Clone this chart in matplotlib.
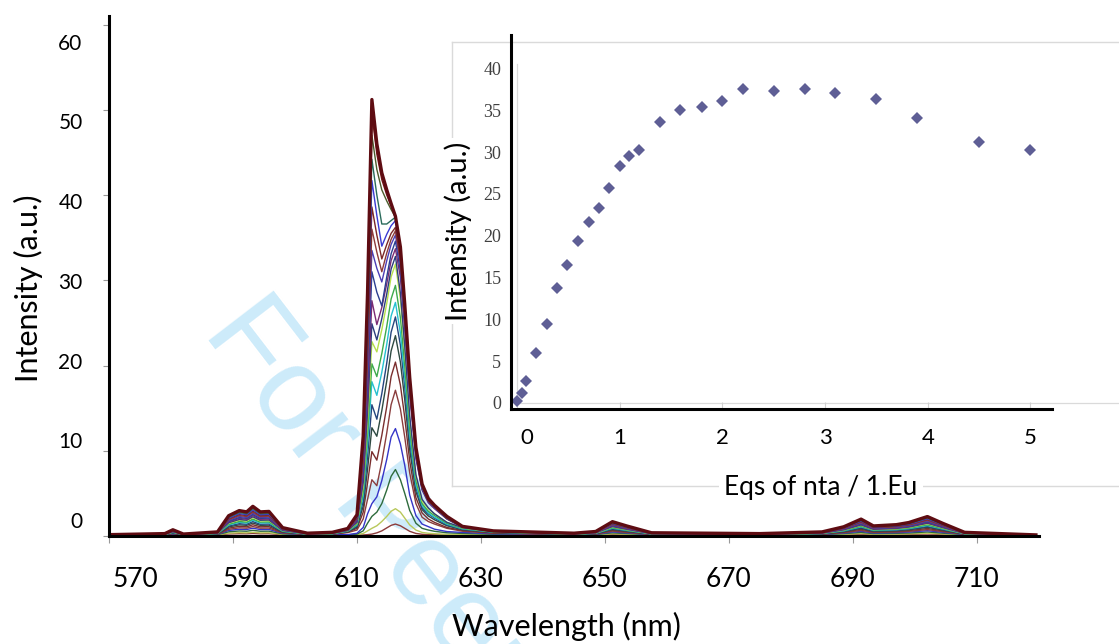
import matplotlib
matplotlib.use("Agg")
import matplotlib.pyplot as plt
from matplotlib.transforms import ScaledTranslation

plt.rcParams['font.family'] = ['Lato', 'DejaVu Sans']

# emission spectra: wavelength grid (nm) and one intensity list per titration step
wavelength = [568, 579, 580.3, 582, 587.5, 589.3, 591, 592.2, 593.2, 594.4, 595.8, 598, 602, 606,
              608.5, 610, 611, 611.7, 612.4, 613.2, 614.0, 614.8, 615.5, 616.2, 617, 617.7, 618.5,
              619.5, 620.5, 621.5, 622.5, 624.5, 627, 632,
              645, 648.5, 651.2, 653.5, 657.5, 675, 685, 688.5, 691.3, 693.3, 697, 699, 702, 704.5, 708, 719.5]

c01 = [0.1, 0.11, 0.14, 0.11, 0.12, 0.24, 0.27, 0.26, 0.3, 0.26, 0.27, 0.15, 0.11, 0.12,
       0.1, 0.1, 0.12, 0.16, 0.22, 0.37, 0.6, 0.95, 1.25, 1.4, 1.2, 0.9, 0.55, 0.3, 0.2, 0.16, 0.14, 0.12, 0.12, 0.11,
       0.11, 0.13, 0.19, 0.16, 0.12, 0.11, 0.12, 0.16, 0.21, 0.16, 0.17, 0.19, 0.23, 0.18, 0.12, 0.1]
c02 = [0.1, 0.12, 0.16, 0.11, 0.14, 0.33, 0.39, 0.37, 0.44, 0.37, 0.38, 0.19, 0.12, 0.13,
       0.11, 0.14, 0.3, 0.6, 0.9, 1.2, 1.7, 2.3, 2.9, 3.2, 2.8, 2.1, 1.3, 0.7, 0.42, 0.32, 0.27, 0.2, 0.17, 0.13,
       0.12, 0.14, 0.26, 0.21, 0.13, 0.12, 0.14, 0.2, 0.29, 0.21, 0.22, 0.25, 0.32, 0.24, 0.13, 0.1]
c03 = [0.11, 0.13, 0.21, 0.12, 0.16, 0.49, 0.59, 0.56, 0.67, 0.56, 0.57, 0.25, 0.14, 0.16,
       0.13, 0.22, 0.6, 1.5, 2.3, 2.8, 3.8, 5.4, 7.0, 7.8, 6.6, 5.0, 3.0, 1.5, 0.9, 0.7, 0.55, 0.38, 0.3, 0.2,
       0.14, 0.17, 0.37, 0.28, 0.15, 0.13, 0.16, 0.27, 0.42, 0.28, 0.31, 0.35, 0.47, 0.33, 0.16, 0.11]
c04 = [0.11, 0.14, 0.25, 0.13, 0.19, 0.65, 0.79, 0.76, 0.91, 0.76, 0.77, 0.31, 0.16, 0.18,
       0.16, 0.32, 1.0, 2.6, 3.8, 4.6, 6.5, 9.0, 11.6, 12.6, 10.8, 8.3, 4.8, 2.4, 1.4, 1.1, 0.8, 0.52, 0.42, 0.26,
       0.16, 0.2, 0.48, 0.36, 0.17, 0.14, 0.19, 0.34, 0.55, 0.36, 0.4, 0.46, 0.62, 0.43, 0.18, 0.11]
c05 = [0.11, 0.15, 0.29, 0.14, 0.21, 0.78, 0.96, 0.92, 1.11, 0.92, 0.93, 0.36, 0.17, 0.2,
       0.4, 0.7, 2.0, 4.3, 6.6, 5.9, 8.7, 12.1, 15.4, 17.1, 14.9, 11.6, 7.4, 3.8, 2.2, 1.7, 1.4, 0.9, 0.56, 0.32,
       0.17, 0.23, 0.57, 0.42, 0.18, 0.15, 0.21, 0.39, 0.66, 0.42, 0.47, 0.54, 0.75, 0.51, 0.2, 0.11]
c06 = [0.11, 0.16, 0.33, 0.15, 0.24, 0.92, 1.14, 1.08, 1.32, 1.08, 1.1, 0.42, 0.18, 0.22,
       0.46, 0.9, 2.8, 6.2, 9.9, 8.9, 11.8, 15.2, 18.7, 20.4, 17.7, 13.9, 8.8, 4.5, 2.7, 2.0, 1.6, 1.0, 0.65, 0.37,
       0.18, 0.25, 0.67, 0.49, 0.2, 0.16, 0.24, 0.45, 0.78, 0.49, 0.54, 0.63, 0.88, 0.6, 0.22, 0.11]
c07 = [0.11, 0.18, 0.36, 0.15, 0.26, 1.06, 1.31, 1.25, 1.52, 1.25, 1.27, 0.47, 0.2, 0.24,
       0.5, 1.05, 3.5, 7.8, 12.7, 11.7, 14.7, 18.2, 21.7, 23.5, 20.4, 16.0, 10.1, 5.2, 3.1, 2.35, 1.9, 1.2, 0.73, 0.41,
       0.2, 0.28, 0.76, 0.55, 0.22, 0.18, 0.26, 0.51, 0.89, 0.55, 0.62, 0.72, 1.02, 0.68, 0.24, 0.11]
c08 = [0.11, 0.18, 0.4, 0.16, 0.28, 1.17, 1.45, 1.38, 1.69, 1.38, 1.41, 0.51, 0.21, 0.26,
       0.54, 1.2, 4.1, 9.3, 15.4, 13.7, 16.7, 20.3, 23.9, 25.7, 22.4, 17.5, 11.1, 5.7, 3.3, 2.6, 2.1, 1.3, 0.79, 0.43,
       0.21, 0.3, 0.84, 0.61, 0.23, 0.18, 0.28, 0.56, 0.98, 0.61, 0.68, 0.8, 1.12, 0.75, 0.26, 0.11]
c09 = [0.12, 0.19, 0.43, 0.17, 0.3, 1.29, 1.6, 1.52, 1.86, 1.52, 1.55, 0.56, 0.22, 0.27,
       0.57, 1.3, 4.7, 10.8, 18.1, 16.5, 19.2, 22.5, 25.8, 27.4, 23.8, 18.6, 11.8, 6.0, 3.6, 2.7, 2.2, 1.4, 0.84, 0.46,
       0.22, 0.32, 0.92, 0.66, 0.25, 0.19, 0.3, 0.61, 1.08, 0.66, 0.74, 0.87, 1.23, 0.82, 0.27, 0.12]
c10 = [0.12, 0.2, 0.45, 0.17, 0.31, 1.38, 1.71, 1.63, 1.99, 1.63, 1.66, 0.59, 0.23, 0.28,
       0.6, 1.4, 5.2, 12.0, 20.2, 18.7, 21.4, 24.6, 27.8, 29.4, 25.6, 20.0, 12.6, 6.5, 3.8, 2.9, 2.4, 1.5, 0.89, 0.48,
       0.23, 0.34, 0.98, 0.7, 0.26, 0.2, 0.31, 0.65, 1.15, 0.7, 0.79, 0.93, 1.32, 0.87, 0.28, 0.12]
c11 = [0.12, 0.21, 0.48, 0.18, 0.33, 1.49, 1.86, 1.77, 2.16, 1.77, 1.8, 0.64, 0.24, 0.3,
       0.63, 1.5, 5.8, 13.5, 22.8, 21.6, 24.2, 27.3, 30.4, 31.9, 27.8, 21.7, 13.7, 7.0, 4.1, 3.2, 2.6, 1.6, 0.96, 0.51,
       0.24, 0.36, 1.06, 0.76, 0.27, 0.21, 0.33, 0.7, 1.25, 0.76, 0.85, 1.0, 1.43, 0.94, 0.3, 0.12]
c12 = [0.12, 0.22, 0.5, 0.18, 0.34, 1.56, 1.94, 1.85, 2.26, 1.85, 1.88, 0.66, 0.25, 0.31,
       0.65, 1.6, 6.3, 14.6, 24.9, 23.0, 25.5, 28.4, 31.3, 32.8, 28.5, 22.3, 14.1, 7.2, 4.3, 3.3, 2.6, 1.6, 0.99, 0.53,
       0.25, 0.38, 1.11, 0.79, 0.28, 0.22, 0.34, 0.73, 1.3, 0.79, 0.89, 1.05, 1.5, 0.98, 0.31, 0.12]
c13 = [0.12, 0.22, 0.53, 0.19, 0.36, 1.65, 2.06, 1.96, 2.4, 1.96, 1.99, 0.7, 0.26, 0.32,
       0.68, 1.7, 6.9, 16.1, 27.6, 24.8, 26.8, 29.6, 32.3, 33.7, 30.3, 24.3, 16.5, 9.1, 5.4, 3.9, 3.2, 2.0, 1.01, 0.54,
       0.26, 0.39, 1.17, 0.83, 0.29, 0.22, 0.36, 0.77, 1.38, 0.83, 0.94, 1.11, 1.58, 1.04, 0.32, 0.12]
c14 = [0.12, 0.23, 0.55, 0.19, 0.37, 1.74, 2.17, 2.07, 2.53, 2.07, 2.1, 0.73, 0.27, 0.34,
       0.71, 1.8, 7.6, 17.8, 31.0, 28.6, 27.0, 30.4, 33.1, 34.6, 31.1, 24.9, 17.0, 9.3, 5.5, 4.0, 3.3, 2.0, 1.03, 0.55,
       0.27, 0.41, 1.24, 0.88, 0.3, 0.23, 0.37, 0.81, 1.45, 0.88, 0.99, 1.17, 1.67, 1.09, 0.34, 0.12]
c15 = [0.12, 0.24, 0.58, 0.2, 0.39, 1.83, 2.29, 2.17, 2.67, 2.17, 2.21, 0.77, 0.27, 0.35,
       0.73, 1.9, 8.1, 19.2, 33.5, 31.4, 29.8, 32.3, 34.2, 35.3, 31.8, 25.4, 17.3, 9.5, 5.6, 4.1, 3.3, 2.1, 1.05, 0.56,
       0.27, 0.43, 1.3, 0.92, 0.31, 0.24, 0.39, 0.84, 1.53, 0.92, 1.03, 1.22, 1.76, 1.15, 0.35, 0.12]
c16 = [0.12, 0.24, 0.6, 0.2, 0.4, 1.92, 2.4, 2.28, 2.8, 2.28, 2.32, 0.8, 0.28, 0.36,
       0.75, 2.0, 8.6, 20.5, 36.0, 33.3, 31.0, 33.2, 34.8, 35.8, 32.2, 25.8, 17.5, 9.7, 5.7, 4.1, 3.4, 2.1, 1.07, 0.57,
       0.28, 0.44, 1.36, 0.96, 0.32, 0.24, 0.4, 0.88, 1.6, 0.96, 1.08, 1.28, 1.84, 1.2, 0.36, 0.12]
c17 = [0.13, 0.25, 0.63, 0.21, 0.42, 2.02, 2.52, 2.39, 2.94, 2.39, 2.44, 0.84, 0.29, 0.38,
       0.77, 2.1, 9.2, 21.9, 38.6, 35.3, 32.5, 34.2, 35.5, 36.2, 32.6, 26.1, 17.7, 9.8, 5.8, 4.2, 3.4, 2.1, 1.08, 0.57,
       0.29, 0.46, 1.43, 1.01, 0.34, 0.25, 0.42, 0.92, 1.68, 1.01, 1.13, 1.34, 1.93, 1.26, 0.38, 0.13]
c18 = [0.13, 0.26, 0.65, 0.21, 0.43, 2.11, 2.63, 2.5, 3.07, 2.5, 2.55, 0.87, 0.3, 0.39,
       0.8, 2.2, 9.8, 23.5, 41.7, 37.6, 34.0, 35.4, 36.4, 37.0, 33.3, 26.6, 18.1, 10.0, 5.9, 4.3, 3.5, 2.2, 1.1, 0.58,
       0.3, 0.48, 1.49, 1.05, 0.35, 0.26, 0.43, 0.96, 1.75, 1.05, 1.18, 1.4, 2.02, 1.31, 0.39, 0.13]
c19 = [0.13, 0.27, 0.68, 0.22, 0.45, 2.2, 2.75, 2.61, 3.21, 2.61, 2.66, 0.91, 0.31, 0.4,
       0.82, 2.3, 10.3, 24.9, 44.2, 40.0, 36.6, 36.6, 37.0, 37.4, 33.7, 26.9, 18.3, 10.1, 6.0, 4.3, 3.5, 2.2, 1.11, 0.59,
       0.31, 0.5, 1.55, 1.09, 0.36, 0.27, 0.45, 1.0, 1.83, 1.09, 1.23, 1.46, 2.11, 1.37, 0.4, 0.13]
c20 = [0.13, 0.27, 0.7, 0.22, 0.46, 2.27, 2.84, 2.69, 3.31, 2.69, 2.74, 0.94, 0.32, 0.41,
       0.84, 2.4, 10.9, 26.3, 47.0, 43.0, 40.6, 39.3, 38.3, 37.4, 33.7, 26.9, 18.3, 10.1, 6.0, 4.3, 3.5, 2.2, 1.11, 0.59,
       0.32, 0.51, 1.6, 1.13, 0.37, 0.27, 0.46, 1.03, 1.89, 1.13, 1.27, 1.51, 2.17, 1.41, 0.41, 0.13]
c21 = [0.13, 0.28, 0.72, 0.23, 0.47, 2.33, 2.92, 2.78, 3.41, 2.78, 2.82, 0.96, 0.33, 0.42,
       0.86, 2.4, 11.4, 27.6, 49.5, 44.8, 41.8, 40.0, 38.7, 37.4, 33.8, 27.0, 18.4, 10.2, 6.0, 4.3, 3.5, 2.2, 1.12, 0.6,
       0.33, 0.52, 1.65, 1.16, 0.37, 0.28, 0.47, 1.06, 1.94, 1.16, 1.31, 1.55, 2.24, 1.45, 0.42, 0.13]
c22 = [0.13, 0.28, 0.73, 0.23, 0.48, 2.38, 2.98, 2.83, 3.48, 2.83, 2.88, 0.98, 0.33, 0.43,
       0.88, 2.5, 11.7, 28.5, 51.2, 46.0, 42.6, 40.6, 39.0, 37.5, 33.9, 27.2, 18.6, 10.4, 6.1, 4.4, 3.6, 2.3, 1.13, 0.6,
       0.33, 0.53, 1.68, 1.18, 0.38, 0.28, 0.48, 1.08, 1.98, 1.18, 1.33, 1.58, 2.28, 1.48, 0.43, 0.13]

spectra = [c01, c02, c03, c04, c05, c06, c07, c08, c09, c10, c11,
           c12, c13, c14, c15, c16, c17, c18, c19, c20, c21, c22]
colors = ['#8c3b3b', '#b8c85a', '#2e6b3c', '#3535c8', '#8a3d3d', '#7a2e2e', '#2e4a42', '#25457d',
          '#25c0d0', '#3daa4c', '#b5df4a', '#2c3d7d', '#7b2b73', '#2b3f8f', '#4b3db5', '#8d3b3b',
          '#7b2727', '#3a3ad2', '#2a6b5b', '#4b5b2b', '#7b1b1b', '#5e0c12']

# inset titration curve
eqs = [0.0, 0.05, 0.09, 0.19, 0.29, 0.39, 0.49, 0.59, 0.70, 0.80, 0.90, 1.00, 1.09,
       1.19, 1.39, 1.59, 1.80, 2.00, 2.20, 2.50, 2.80, 3.10, 3.50, 3.90, 4.50, 5.00]
eq_intensity = [0.2, 1.2, 2.6, 6.0, 9.4, 13.7, 16.5, 19.4, 21.6, 23.3, 25.7, 28.3, 29.5,
                30.2, 33.6, 35.0, 35.4, 36.1, 37.5, 37.3, 37.5, 37.1, 36.3, 34.1, 31.2, 30.3]

W, H = 1119, 644
fig = plt.figure(figsize=(W / 100, H / 100), dpi=100)


def nudge(label, dx, dy):
    # shift a text by pixels (dy positive = down)
    label.set_transform(label.get_transform() +
                        ScaledTranslation(dx / 100, -dy / 100, fig.dpi_scale_trans))


# watermark behind everything
fig.text(202 / W, 1 - 332 / H, 'For Peer Review', rotation=-52.5, rotation_mode='anchor',
         ha='left', va='baseline', fontsize=86, color='#cdebfa',
         family='Liberation Sans', zorder=-1)

# main spectra
ax = fig.add_axes([109 / W, 108 / H, 930 / W, 520 / H])
ax.set_facecolor('none')
for i, (ys, col) in enumerate(zip(spectra, colors)):
    lw = 2.4 if i == len(spectra) - 1 else 1.0
    ax.plot(wavelength, ys, color=col, lw=lw, solid_joinstyle='round')
ax.set_xlim(570, 720)
ax.set_ylim(0, 61)
ax.set_xticks(range(570, 711, 20))
ax.set_yticks(range(0, 61, 10))
for s in ['top', 'right']:
    ax.spines[s].set_visible(False)
for s in ['left', 'bottom']:
    ax.spines[s].set_linewidth(2.2)
    ax.spines[s].set_color('black')
ax.tick_params(axis='x', length=5, color='#999999', labelsize=19, pad=17)
ax.tick_params(axis='y', length=4, color='#999999', labelsize=15, pad=15)
ax.set_xlabel('Wavelength (nm)', fontsize=22)
ax.xaxis.set_label_coords((566 - 109) / 930, (536 - 626) / 520)
ax.xaxis.label.set_va('center')
ax.set_ylabel('Intensity (a.u.)', fontsize=22)
ax.yaxis.set_label_coords((28 - 109) / 930, (536 - 288) / 520)
ax.yaxis.label.set_va('center')

# the pasted tick labels sit a little off their ticks
xlabs = ax.get_xticklabels()
nudge(xlabs[0], 26, 0)
nudge(xlabs[1], 12, 0)
for lab, v in zip(ax.get_yticklabels(), range(0, 61, 10)):
    nudge(lab, 0, -16 + 0.55 * v)

# inset frame (pasted chart area)
box = fig.add_axes([452 / W, (H - 486) / H, (W - 452) / W, 444 / H], zorder=1)
box.set_facecolor('white')
box.set_xticks([])
box.set_yticks([])
box.spines['right'].set_visible(False)
for s in ['top', 'left', 'bottom']:
    box.spines[s].set_color('#dadada')
    box.spines[s].set_linewidth(1.0)

# inset plot
ax_in = fig.add_axes([511 / W, (H - 409) / H, 541 / W, 374 / H], zorder=2)
ax_in.set_facecolor('none')
ax_in.plot(eqs, eq_intensity, linestyle='none', marker='D', ms=6,
           color='#5e5e95', markeredgewidth=0)
ax_in.set_xlim(-0.058, 5.21)
ax_in.set_ylim(-0.72, 44.0)
ax_in.axhline(0, xmin=6 / 541, xmax=(W - 511) / 541, color='#dadada', lw=0.9,
              clip_on=False, zorder=0)
ax_in.axvline(0, ymin=0.72 / 44.72, ymax=41.2 / 44.72, color='#dadada', lw=0.9, zorder=0)
ax_in.set_xticks(range(0, 6))
ax_in.set_yticks(range(0, 41, 5))
for s in ['top', 'right']:
    ax_in.spines[s].set_visible(False)
for s in ['left', 'bottom']:
    ax_in.spines[s].set_linewidth(2.2)
    ax_in.spines[s].set_color('black')
ax_in.tick_params(axis='x', direction='in', length=5, color='#d0d0d0', labelsize=16, pad=14)
ax_in.tick_params(axis='y', length=0, labelsize=13, labelcolor='#404040', pad=7)
for lab in ax_in.get_yticklabels():
    lab.set_family('Liberation Serif')
nudge(ax_in.get_xticklabels()[0], 10, 0)

fig.text(458 / W, 1 - 231 / H, 'Intensity (a.u.)', rotation=90, ha='center', va='center',
         fontsize=21, zorder=5, bbox=dict(facecolor='white', edgecolor='none', pad=2))
fig.text(821 / W, 1 - 488 / H, 'Eqs of nta / 1.Eu', ha='center', va='center',
         fontsize=19, zorder=5, bbox=dict(facecolor='white', edgecolor='none', pad=4))

fig.savefig('out.png', dpi=100)
